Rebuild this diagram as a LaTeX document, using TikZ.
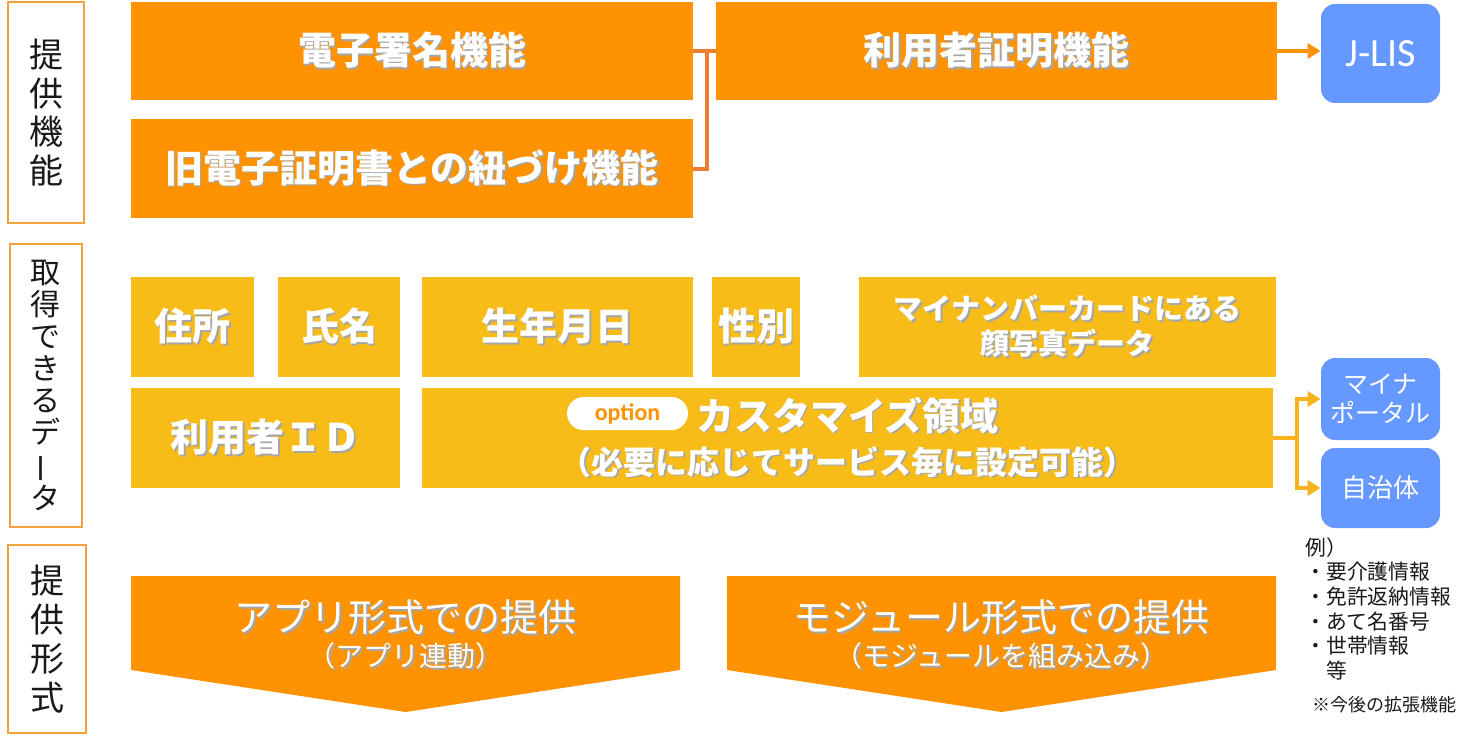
\documentclass[tikz,border=0pt]{standalone}
\usepackage{fontspec}
\setmainfont{Noto Sans CJK JP}
\newfontfamily\latfont{Carlito}
\usepackage{xcolor}
\usetikzlibrary{arrows.meta,positioning,calc}

\definecolor{fnorange}{HTML}{FF9200}
\definecolor{datayellow}{HTML}{F8BC18}
\definecolor{sysblue}{HTML}{6699FF}
\definecolor{labelorange}{HTML}{F2A23A}
\definecolor{linkorange}{HTML}{ED7D31}
\definecolor{linkyellow}{HTML}{F7B21C}

% soft text shadow as in the slide
\newcommand{\shd}[1]{\rlap{\kern0.9pt\raisebox{-0.9pt}{\color{black!35}#1}}#1}

\begin{document}
\begin{tikzpicture}[
  x=0.5pt, y=-0.5pt,
  labelbox/.style={draw=labelorange, line width=1pt, fill=white, align=center, inner sep=0pt, text=black!90},
  fnbox/.style={fill=fnorange, text=white, align=center, inner sep=0pt, font=\fontsize{19}{23}\selectfont\bfseries},
  databox/.style={fill=datayellow, text=white, align=center, inner sep=0pt, minimum height=50pt, font=\fontsize{19}{23}\selectfont\bfseries},
  sysbox/.style={fill=sysblue, text=white, rounded corners=7pt, align=center, inner sep=0pt, minimum width=59.5pt, font=\fontsize{12.5}{14.5}\selectfont},
  arrow/.style={-{Triangle[length=6.5pt,width=7.5pt]}, line width=2pt},
]
  \useasboundingbox (0,0) rectangle (1470,738);

  % Row labels
  \node[labelbox, minimum width=38pt, minimum height=110.5pt, font=\fontsize{17}{19.3}\selectfont] (lfunc) at (46,112.5) {提\\供\\機\\能};
  \node[labelbox, minimum width=36pt, minimum height=141.5pt, font=\fontsize{15}{16}\selectfont] (ldata) at (46,385.5) {取\\得\\で\\き\\る\\デ\\\rotatebox[origin=c]{90}{ー}\\タ};
  \node[labelbox, minimum width=39pt, minimum height=94pt, font=\fontsize{17}{19.5}\selectfont] (lform) at (47,639) {提\\供\\形\\式};

  % Functions
  \node[fnbox, minimum width=281pt, minimum height=49pt] (sig) at (412,51) {\shd{電子署名機能}};
  \node[fnbox, minimum width=281pt, minimum height=49.5pt] (link) at (412,168.5) {\shd{旧電子証明書との紐づけ機能}};
  \node[fnbox, minimum width=280.5pt, minimum height=49pt] (auth) at (996.5,51) {\shd{利用者証明機能}};
  \node[sysbox, minimum height=49.5pt, font=\latfont\fontsize{20}{20}\selectfont] (jlis) at (1380.5,53.5) {J-LIS};
  \coordinate (brk) at ($(sig.east)!0.61!(auth.west)$);
  \draw[linkorange, line width=2pt] (sig.east) -- (auth.west);
  \draw[linkorange, line width=2pt] (brk) |- (link.east);
  \draw[arrow, fnorange] (auth.east) -- (auth.east -| jlis.west);

  % Data
  \node[databox, minimum width=61.5pt] (addr) at (192.5,327) {\shd{住所}};
  \node[databox, minimum width=61pt] (name) at (339,327) {\shd{氏名}};
  \node[databox, minimum width=135.5pt] (birth) at (557.5,327) {\shd{生年月日}};
  \node[databox, minimum width=44pt] (sex) at (756,327) {\shd{性別}};
  \node[databox, minimum width=208.5pt, font=\fontsize{14.5}{17.5}\selectfont\bfseries] (photo) at (1067.5,327) {\shd{マイナンバーカードにある}\\\shd{顔写真データ}};
  \node[databox, minimum width=134.5pt] (uid) at (265.5,438) {\shd{利用者ＩＤ}};
  \node[databox, minimum width=425.5pt] (custom) at (847.5,438) {\shd{カスタマイズ領域}\\[-1pt]{\fontsize{16}{18}\selectfont\shd{（必要に応じてサービス毎に設定可能）}}};
  \node[fill=white, rounded corners=8.25pt, minimum width=60.5pt, minimum height=16.5pt, inner sep=0pt, text=fnorange, font=\latfont\bfseries\fontsize{12}{12}\selectfont] (opt) at (627.5,413.5) {option};
  \node[sysbox, minimum height=41pt] (portal) at (1380.5,399) {マイナ\\ポータル};
  \node[sysbox, minimum height=40pt, font=\fontsize{13}{15}\selectfont] (city) at (1380.5,488) {自治体};
  \coordinate (fork) at ($(custom.east)+(24,0)$);
  \draw[linkyellow, line width=2pt] (custom.east) -- (fork);
  \draw[arrow, linkyellow] (fork) |- (portal.west);
  \draw[arrow, linkyellow] (fork) |- (city.west);
  \node[anchor=north west, align=left, inner sep=0pt, text=black!90, font=\fontsize{10.4}{12.3}\selectfont] (examples) at (1305,537) {例）\\・要介護情報\\・免許返納情報\\・あて名番号\\・世帯情報\\\hspace{1em}等};
  \node[anchor=west, inner sep=0pt, text=black!90, font=\fontsize{9}{9}\selectfont] (future) at (1312,705) {※今後の拡張機能};

  % Delivery forms
  \fill[fnorange] (131,576) -- (680,576) -- (680,670) -- (405.5,712) -- (131,670) -- cycle;
  \fill[fnorange] (727,576) -- (1276,576) -- (1276,670) -- (1001.5,712) -- (727,670) -- cycle;
  \node[text=white, font=\fontsize{19}{19}\selectfont] (app) at (405.5,618) {\shd{アプリ形式での提供}};
  \node[text=white, font=\fontsize{14}{14}\selectfont] (appnote) at (405.5,657) {\shd{（アプリ連動）}};
  \node[text=white, font=\fontsize{19}{19}\selectfont] (mod) at (1001.5,618) {\shd{モジュール形式での提供}};
  \node[text=white, font=\fontsize{14}{14}\selectfont] (modnote) at (1001.5,657) {\shd{（モジュールを組み込み）}};
\end{tikzpicture}
\end{document}
